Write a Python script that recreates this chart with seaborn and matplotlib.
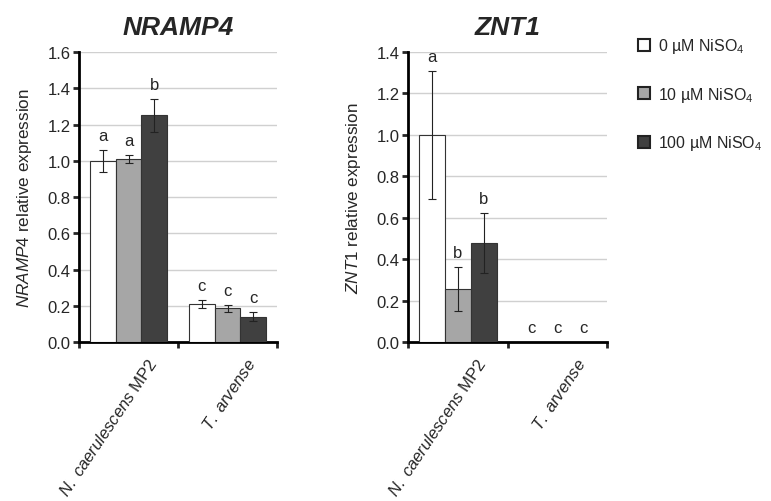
import numpy as np
import pandas as pd
import matplotlib
matplotlib.use("Agg")
import matplotlib.pyplot as plt
import matplotlib.transforms as mtransforms
from matplotlib.patches import Patch
import seaborn as sns

# data
species = ["N. caerulescens MP2", "T. arvense"]
treatments = ["0 µM NiSO$_4$", "10 µM NiSO$_4$", "100 µM NiSO$_4$"]
colors = ["#ffffff", "#a6a6a6", "#404040"]

nramp4_mean = [[1.00, 1.01, 1.25], [0.21, 0.185, 0.14]]
nramp4_err = [[0.06, 0.02, 0.09], [0.02, 0.02, 0.025]]
nramp4_letters = [["a", "a", "b"], ["c", "c", "c"]]

znt1_mean = [[1.00, 0.255, 0.48], [0.0, 0.0, 0.0]]
znt1_err = [[0.31, 0.105, 0.145], [0.0, 0.0, 0.0]]
znt1_letters = [["a", "b", "b"], ["c", "c", "c"]]

sns.set_style("white")
plt.rcParams["font.family"] = ["Liberation Sans", "DejaVu Sans"]
plt.rcParams["mathtext.fontset"] = "custom"
plt.rcParams["mathtext.rm"] = "Liberation Sans"
plt.rcParams["mathtext.it"] = "Liberation Sans:italic"
plt.rcParams["mathtext.bf"] = "Liberation Sans:bold"


def make_df(means, errs):
    rows = []
    for i, sp in enumerate(species):
        for j, tr in enumerate(treatments):
            rows.append({"species": sp, "treatment": tr,
                         "value": means[i][j], "err": errs[i][j]})
    return pd.DataFrame(rows)


def draw_panel(ax, means, errs, letters, title, gene, ymax):
    df = make_df(means, errs)
    sns.barplot(data=df, x="species", y="value", hue="treatment",
                hue_order=treatments, palette=colors, width=0.78,
                edgecolor="#333333", linewidth=0.8, errorbar=None,
                legend=False, ax=ax, zorder=3)

    # bars sorted left to right: species-major, treatment-minor
    bars = sorted([p for p in ax.patches], key=lambda p: p.get_x())
    for k, bar in enumerate(bars):
        i, j = divmod(k, len(treatments))
        xc = bar.get_x() + bar.get_width() / 2
        h = means[i][j]
        e = errs[i][j]
        if e > 0:
            ax.errorbar(xc, h, yerr=e, fmt="none", ecolor="#222222",
                        elinewidth=0.8, capsize=3, capthick=0.8, zorder=4)
        ax.annotate(letters[i][j], (xc, h + e), xytext=(0, 5),
                    textcoords="offset points", ha="center", va="bottom",
                    fontsize=12)

    ax.set_ylim(0, ymax)
    ticks = np.arange(0, ymax + 0.01, 0.2)
    ax.set_yticks(ticks)
    ax.set_yticklabels([f"{v:.1f}" for v in ticks])
    ax.set_xlim(-0.5, 1.5)
    ax.yaxis.grid(True, color="#d0d0d0", linewidth=1)
    ax.set_axisbelow(True)
    sns.despine(ax=ax)
    for s in ["left", "bottom"]:
        ax.spines[s].set_linewidth(2)
        ax.spines[s].set_color("black")
    ax.tick_params(axis="y", direction="out", length=4, width=2,
                   left=True, labelsize=12, pad=2)
    ax.set_xticks([0, 1])
    ax.set_xticklabels(["$\\mathit{N.\\ caerulescens}$ MP2",
                        "$\\mathit{T.\\ arvense}$"])
    ax.set_xticks([-0.5, 0.5, 1.5], minor=True)
    ax.tick_params(axis="x", which="minor", direction="out", length=4,
                   width=2, bottom=True)
    ax.tick_params(axis="x", which="major", length=0, labelsize=12, pad=4)
    offset = mtransforms.ScaledTranslation(0.25, -0.12, ax.figure.dpi_scale_trans)
    for lab in ax.get_xticklabels():
        lab.set_rotation(56)
        lab.set_ha("right")
        lab.set_va("center")
        lab.set_rotation_mode("anchor")
        lab.set_transform(lab.get_transform() + offset)
    ax.set_xlabel("")
    ax.set_ylabel(f"$\\mathit{{{gene}}}$ relative expression", fontsize=12.3,
                  labelpad=10)
    ax.set_title(title, fontsize=19, fontweight="bold", fontstyle="italic",
                 pad=13)


fig = plt.figure(figsize=(7.71, 5.02), dpi=100)
ax1 = fig.add_axes([0.1025, 0.3167, 0.2568, 0.5777])
ax2 = fig.add_axes([0.5292, 0.3167, 0.2581, 0.5777])

draw_panel(ax1, nramp4_mean, nramp4_err, nramp4_letters, "NRAMP4", "NRAMP4", 1.6)
draw_panel(ax2, znt1_mean, znt1_err, znt1_letters, "ZNT1", "ZNT1", 1.4)

handles = [Patch(facecolor=c, edgecolor="#222222", linewidth=1.5) for c in colors]
fig.legend(handles, treatments, loc="upper left", bbox_to_anchor=(0.813, 0.948),
           frameon=False, fontsize=11.5, handlelength=0.78, handleheight=0.78,
           handletextpad=0.45, labelspacing=1.85, borderaxespad=0.3)

fig.savefig("out.png", dpi=100)
